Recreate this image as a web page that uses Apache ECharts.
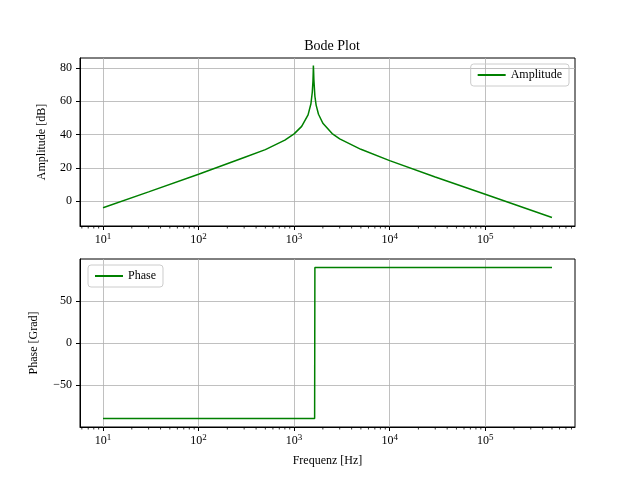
<!DOCTYPE html>
<html style="height: 100%">
<head>
<meta charset="utf-8">
</head>
<body style="height: 100%; margin: 0; background: #fff">
<div id="container" style="width: 640px; height: 480px"></div>
<script src="https://cdn.jsdelivr.net/npm/echarts@6/dist/echarts.min.js"></script>
<script>
// frequency (Hz) and values
var ampFreq = [10, 30, 100, 300, 500, 800, 1000, 1200, 1400, 1500, 1550, 1575, 1585, 1591, 1600, 1610, 1650, 1700, 1800, 2000, 2500, 3000, 5000, 10000, 30000, 100000, 500000];
var ampDb   = [-4, 5.5, 16.1, 26.2, 30.9, 36.6, 40.4, 44.9, 51.8, 58.5, 65.5, 72, 77, 81.5, 78, 73, 63, 57.7, 52.2, 46.8, 40.6, 37.4, 31.1, 24.3, 14.5, 4.1, -9.9];
var phaseFreq = [10, 1640, 1650, 500000];
var phaseDeg  = [-90, -90, 90, 90];
var decades = [1, 2, 3, 4, 5];
var ampTicks = [0, 20, 40, 60, 80];

var font = 'Liberation Serif';
function pairs(f, v) { return f.map(function (x, i) { return [Math.log10(x), v[i]]; }); }
var minors = [];
for (var d = 0; d <= 5; d++) for (var k = 2; k <= 9; k++) {
  var p = d + Math.log10(k);
  if (p > 0.759 && p < 5.94) minors.push(p);
}
function minorSeries(idx, ymin) {
  return {
    type: 'custom', xAxisIndex: idx, yAxisIndex: idx, silent: true,
    data: minors.map(function (m) { return [m, ymin]; }),
    renderItem: function (params, api) {
      var c = api.coord([api.value(0), api.value(1)]);
      return { type: 'line', shape: { x1: c[0], y1: c[1], x2: c[0], y2: c[1] + 2.5 }, style: { stroke: '#000', lineWidth: 0.8 } };
    }
  };
}
function xAxis(idx, name) {
  return {
    type: 'value', gridIndex: idx, min: 0.759, max: 5.94,
    name: name, nameLocation: 'middle', nameGap: 28,
    nameTextStyle: { fontFamily: font, fontSize: 12, color: '#000' },
    axisLine: { onZero: false, lineStyle: { color: '#000' } },
    axisTick: { customValues: decades, length: 4, lineStyle: { color: '#000' } },
    axisLabel: { customValues: decades, fontFamily: font, fontSize: 12, color: '#000', margin: 6,
      formatter: function (v) { return '10{s|' + Math.round(v) + '}'; },
      rich: { s: { fontFamily: font, fontSize: 9, color: '#000', verticalAlign: 'top', padding: [0, 0, 6, 0] } } },
    splitLine: { show: true, lineStyle: { color: '#b0b0b0', width: 0.8 } }
  };
}
var legendBase = { orient: 'vertical', itemWidth: 28, itemHeight: 2, icon: 'rect',
  borderColor: '#ccc', borderWidth: 1, borderRadius: 3, padding: [5, 7],
  textStyle: { fontFamily: font, fontSize: 12, color: '#000' } };
var dom = document.getElementById('container');
var myChart = echarts.init(dom);
var option = {
  animation: false,
  title: { text: 'Bode Plot', left: 327, top: 34, textAlign: 'center',
    textStyle: { fontFamily: font, fontSize: 14, fontWeight: 'normal', color: '#000' } },
  legend: [
    Object.assign({ data: ['Amplitude'], right: 71, top: 64 }, legendBase),
    Object.assign({ data: ['Phase'], left: 88, top: 265 }, legendBase)
  ],
  grid: [
    { left: 80, right: 65, top: 58, height: 168, show: true, borderColor: '#000', borderWidth: 1 },
    { left: 80, right: 65, top: 259, height: 168, show: true, borderColor: '#000', borderWidth: 1 }
  ],
  xAxis: [xAxis(0, ''), xAxis(1, 'Frequenz [Hz]')],
  yAxis: [
    { type: 'value', gridIndex: 0, min: -15, max: 86,
      name: 'Amplitude [dB]', nameLocation: 'middle', nameGap: 32,
      nameTextStyle: { fontFamily: font, fontSize: 12, color: '#000' },
      axisLine: { show: true, onZero: false, lineStyle: { color: '#000' } },
      axisTick: { show: true, customValues: ampTicks, length: 4, lineStyle: { color: '#000' } },
      axisLabel: { customValues: ampTicks, fontFamily: font, fontSize: 12, color: '#000' },
      splitLine: { show: true, lineStyle: { color: '#b0b0b0', width: 0.8 } } },
    { type: 'value', gridIndex: 1, min: -100, max: 100, interval: 50,
      name: 'Phase [Grad]', nameLocation: 'middle', nameGap: 40,
      nameTextStyle: { fontFamily: font, fontSize: 12, color: '#000' },
      axisLine: { show: true, onZero: false, lineStyle: { color: '#000' } },
      axisTick: { show: true, customValues: [-50, 0, 50], length: 4, lineStyle: { color: '#000' } },
      axisLabel: { customValues: [-50, 0, 50], fontFamily: font, fontSize: 12, color: '#000',
        formatter: function (v) { return v < 0 ? '\u2212' + (-v) : v; } },
      splitLine: { show: true, lineStyle: { color: '#b0b0b0', width: 0.8 } } }
  ],
  series: [
    { name: 'Amplitude', type: 'line', xAxisIndex: 0, yAxisIndex: 0, data: pairs(ampFreq, ampDb),
      symbol: 'none', color: '#008000', lineStyle: { width: 1.5 } },
    { name: 'Phase', type: 'line', xAxisIndex: 1, yAxisIndex: 1, data: pairs(phaseFreq, phaseDeg),
      symbol: 'none', color: '#008000', lineStyle: { width: 1.5 } },
    minorSeries(0, -15),
    minorSeries(1, -100)
  ]
};
myChart.setOption(option);
</script>
</body>
</html>
